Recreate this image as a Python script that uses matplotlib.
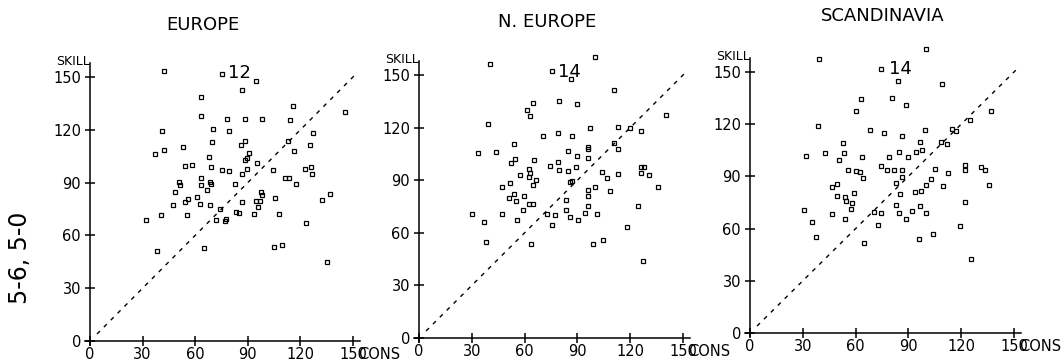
import matplotlib.pyplot as plt
import matplotlib.transforms as mtransforms

# EUROPE
eu_cons = [42, 75.3, 94.5, 86.7, 63.6, 115.6, 145.2, 63.6, 77.9, 88.6, 98.4, 114.2,
           40.9, 70.3, 79.5, 127.4, 69.7, 88.6, 85.9, 113.1, 52.9, 125.5, 37.1, 42.4,
           116.5, 90.9, 67.8, 89.4, 88.4, 95.5, 54, 58, 69.1, 75.4, 79.3, 89.8, 86.7,
           104.3, 122.9, 125.8, 126.4, 111.2, 113.4, 117.7, 63.6, 50.6, 51.6, 68.4, 69.1,
           63.2, 82.7, 48.7, 66.7, 97.6, 98.4, 61.1, 105.4, 132.2, 136.9, 55.8, 54.4,
           86.5, 94.5, 97, 95.9, 62.5, 68.2, 47.2, 74.1, 83.1, 84.8, 93.8, 107.9, 40.3,
           55.2, 77.5, 77.1, 71.8, 31.9, 123, 65.3, 38, 104.9, 109.8, 135]
eu_skill = [153.2, 151.9, 147.5, 142.8, 138.8, 133.5, 130, 128, 126, 126, 126, 125.7,
            119.3, 120.6, 119.6, 118.1, 112.8, 113.4, 111.5, 113.6, 110.3, 111.1, 106.2,
            108.3, 107.7, 106.7, 104.5, 104.1, 102.6, 101.1, 99.4, 100.1, 98.8, 96.9,
            96.5, 97.6, 95, 97.1, 97.5, 98.8, 95, 92.5, 92.5, 89.3, 92.5, 90.6, 88.7,
            90.6, 89.1, 88.5, 89.3, 84.9, 85.7, 84.6, 83, 82.1, 81.3, 80.2, 83.6, 80.6,
            78.7, 79.1, 79.3, 79.3, 76.4, 77.7, 77.5, 77.4, 74.9, 73.4, 72.6, 72.2, 72.2,
            71.5, 71.7, 69.6, 67.9, 68.6, 68.6, 66.9, 53.1, 51.4, 53.3, 54.6, 45.1]

# N. EUROPE
ne_cons = [40.2, 100.1, 75.3, 86.1, 110.9, 64.5, 61.2, 63.3, 79.3, 89.7, 140.3, 39.1,
           97.3, 113, 120, 126.1, 70.3, 78.7, 86.8, 33.4, 44, 53.7, 96.3, 96.3, 96.3,
           110.9, 113.1, 84.9, 89.9, 54.6, 52.3, 65.6, 78.9, 74.7, 126.1, 128, 62.6,
           63.1, 62.6, 79.7, 89.3, 103.7, 106.6, 113.1, 126.1, 130.4, 57.4, 84.6, 66.2,
           64.8, 85.7, 86.8, 47.4, 51.8, 96.3, 96.3, 99.8, 108.6, 135.6, 53.7, 55.2,
           51.1, 59.9, 83.4, 58.9, 62.6, 64.5, 96.3, 124.4, 47, 30.1, 83.4, 72.6, 77,
           94.6, 101.1, 85.7, 90.4, 55.7, 37, 75.7, 118.3, 38.3, 63.5, 99, 104.7, 127.4]
ne_skill = [156.5, 160.5, 152.1, 147.7, 141.7, 134.2, 129.9, 126.4, 135.2, 133.5, 127,
            122, 119.6, 120.5, 119.6, 118, 115.2, 116.7, 115.2, 105.3, 106.1, 110.4,
            109.1, 107.6, 102.8, 111.4, 107.8, 106.8, 104.1, 102.1, 99.6, 101.3, 100.5,
            98.4, 97.5, 97.5, 96.2, 93.9, 92, 95.8, 97.3, 94.8, 91.4, 93.5, 94.4, 93.1,
            93.1, 95, 90.4, 87.4, 89.1, 89.5, 85.9, 88.2, 84.3, 80.9, 85.9, 83.8, 85.9,
            81.9, 78.3, 79.6, 80.9, 79, 73.3, 76.2, 76.2, 75.2, 75.2, 71, 70.5, 72.9, 71,
            70.1, 71.4, 71, 69.1, 67.2, 67.2, 66.3, 64.4, 63.4, 54.5, 53.9, 53.5, 55.8, 44]

# SCANDINAVIA
sc_cons = [39.2, 100, 74.6, 83.9, 108.9, 62.9, 80.4, 88.6, 60.4, 136.8, 125, 38.4, 68.2,
           76.1, 99.4, 114.6, 116.9, 86.4, 96.4, 108.3, 111.9, 52.7, 42.6, 31.6, 53.2,
           63.6, 84.5, 89.8, 94.5, 97.9, 79, 50.6, 74.2, 55.5, 60.2, 62.5, 64, 78, 82,
           86.6, 105.1, 112.5, 122.4, 122, 131.3, 133.5, 82.8, 86.6, 102.7, 46.4, 49.6,
           100, 109.8, 135.6, 59.1, 49.2, 54.2, 54.5, 57.8, 85.2, 93.9, 97.4, 82.9, 57.6,
           30.7, 74.2, 70.6, 46.6, 84.8, 91.9, 96.6, 100.2, 122.4, 54, 88.6, 35.4, 72.9,
           119.5, 37.7, 96.2, 104, 64.8, 125.4]
sc_skill = [157.7, 163.2, 151.9, 144.9, 143.3, 134.7, 134.9, 131.1, 127.5, 127.5, 122.3,
            118.9, 116.6, 115.2, 116.6, 117, 116.2, 113.1, 109.7, 109.9, 108.4, 109.1,
            103.6, 101.9, 103.2, 100.9, 104, 101.3, 103.8, 105.3, 101.3, 99.2, 96.1,
            93.8, 93.1, 92.3, 88.9, 93.8, 93.4, 93.6, 94.4, 91.9, 96.7, 93.6, 95.6, 93.4,
            86.4, 89.8, 88.3, 84.1, 85.6, 84.8, 84.5, 85, 80.3, 78.7, 78.4, 75.9, 74.7,
            79.9, 81.2, 81.8, 73.6, 71.1, 70.7, 68.8, 69.7, 68.6, 68.8, 70.1, 73, 68.8,
            75.1, 65.4, 65.7, 63.6, 61.9, 61.5, 55.2, 53.9, 56.8, 52, 42.8]

titles = ['EUROPE', 'N. EUROPE', 'SCANDINAVIA']
counts = ['12', '14', '14']
ticks = [0, 30, 60, 90, 120, 150]
series = [(eu_cons, eu_skill), (ne_cons, ne_skill), (sc_cons, sc_skill)]

W, H = 1064, 361
fig = plt.figure(figsize=(W / 100, H / 100), dpi=100)

# origin pixel (x, y from top), pixels per unit (x, y), title pixel position
frames = [(90, 341, 1.753, 1.76, 203, 25),
          (419, 338, 1.76, 1.753, 547, 22),
          (750, 333, 1.76, 1.74, 883, 16)]
xlo, xhi, ylo, yhi = -4, 157, -3, 158

for (cons, skill), title, n, (x0, y0, sx, sy, tx, ty) in zip(series, titles, counts, frames):
    ax = fig.add_axes([(x0 + xlo * sx) / W, (H - y0 + ylo * sy) / H,
                       (xhi - xlo) * sx / W, (yhi - ylo) * sy / H])
    ax.set_xlim(xlo, xhi)
    ax.set_ylim(ylo, yhi)
    for s in ['top', 'right']:
        ax.spines[s].set_visible(False)
    ax.spines['left'].set_position(('data', 0))
    ax.spines['bottom'].set_position(('data', 0))
    ax.spines['left'].set_bounds(-2, yhi)
    ax.spines['bottom'].set_bounds(-3, 154)
    for s in ['left', 'bottom']:
        ax.spines[s].set_linewidth(1.1)
    ax.set_xticks(ticks)
    ax.set_yticks(ticks)
    ax.tick_params(direction='inout', length=7, width=1.1, labelsize=10.5)
    ax.tick_params(axis='x', pad=1)
    ax.tick_params(axis='y', pad=3)

    ax.plot([4, 151], [4, 151], color='black', linestyle=(0, (3, 4)), linewidth=1)
    ax.plot(cons, skill, linestyle='none', marker='s', markersize=3, clip_on=False,
            markerfacecolor='none', markeredgecolor='black', markeredgewidth=0.9)

    ax.text(0, yhi - 3, 'SKILL', ha='right', va='bottom', fontsize=9)
    ax.text(79, 152, n, ha='left', va='center', fontsize=13)
    trans = mtransforms.blended_transform_factory(ax.transData, ax.transData)
    ax.annotate('CONS', xy=(153, 0), xycoords=trans, xytext=(0, -4.5),
                textcoords='offset points', ha='left', va='top', fontsize=10.5)
    fig.text(tx / W, 1 - ty / H, title, ha='center', va='center', fontsize=13)

fig.text(20 / W, 1 - 258 / H, '5-6, 5-0', rotation=90, ha='center', va='center', fontsize=17)

fig.savefig('out.png', dpi=100, facecolor='white')
